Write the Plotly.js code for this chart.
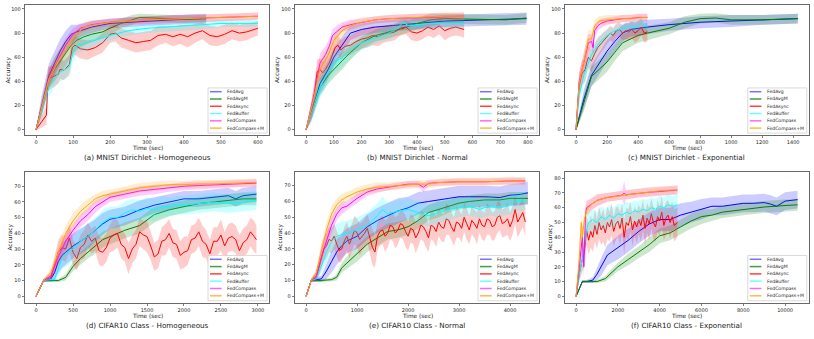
<!DOCTYPE html>
<html><head><meta charset="utf-8">
<script src="https://cdn.plot.ly/plotly-3.0.1.min.js"></script>
<style>html,body{margin:0;padding:0;background:#fff}#chart{width:814px;height:339px}</style>
</head><body><div id="chart"></div>
<script>
const seriesNames = ['FedAvg','FedAvgM','FedAsync','FedBuffer','FedCompass','FedCompass+M'];
const seriesColors = ['#0000ff','#008000','#ff0000','#00ffff','#ff00ff','#ffa500'];
const bandColors = ['rgba(0,0,255,0.2)','rgba(0,128,0,0.2)','rgba(255,0,0,0.2)','rgba(0,255,255,0.2)','rgba(255,0,255,0.2)','rgba(255,165,0,0.2)'];
const legendColors = ['rgba(0,0,255,0.55)','rgba(0,128,0,0.75)','rgba(255,0,0,0.75)','rgba(0,255,255,0.6)','rgba(255,0,255,0.6)','rgba(255,165,0,0.75)'];
const panelTitles = ['(a) MNIST Dirichlet - Homogeneous','(b) MNIST Dirichlet - Normal','(c) MNIST Dirichlet - Exponential','(d) CIFAR10 Class - Homogeneous','(e) CIFAR10 Class - Normal','(f) CIFAR10 Class - Exponential'];
const xTickVals = [[0,100,200,300,400,500,600],[0,100,200,300,400,500,600,700,800],[0,200,400,600,800,1000,1200,1400],[0,500,1000,1500,2000,2500,3000],[0,1000,2000,3000,4000],[0,2000,4000,6000,8000,10000]];
const yTickVals = [[0,20,40,60,80,100],[0,20,40,60,80,100],[0,20,40,60,80,100],[0,10,20,30,40,50,60,70],[0,10,20,30,40,50,60,70],[0,10,20,30,40,50,60,70,80]];

// ---------- Panel A: MNIST Dirichlet - Homogeneous ----------
const a_avg_t = [0,15,35,50,65,80,95,110,130,150,200,250,300,350,400,460];
const a_avg_v = [0,20,45,55,65,73,79,81,83,85,88,89,90,91,91.5,92];
const a_avg_s = [1,8,10,10,10,9,8,6,5,5,4,4,4,4,4,4];
const a_avgm_t = [0,15,35,50,65,80,95,110,130,150,180,200,230,260,280,320,360,400,460];
const a_avgm_v = [0,18,42,50,57,63,70,74,77,79,81,84,88,91,93,92.5,92,91.5,92];
const a_avgm_s = [1,6,8,10,10,10,9,8,7,6,5,5,4,4,3,3,3,3,3];
const a_async_t = [0,28,32,45,60,65,75,90,98,105,120,140,160,180,200,215,230,250,270,290,310,330,350,370,390,410,430,450,470,490,510,530,550,570,590,600];
const a_async_v = [0,12,42,44,46,50,49,54,68,70,67,66,68,72,79,80,76,74,72,73,74,78,79,77,79,77,80,82,78,77,79,82,80,81,83,84];
const a_async_s = [1,8,10,9,8,8,8,8,8,8,8,8,7,8,7,7,8,8,8,8,8,8,7,8,8,9,8,7,8,8,8,7,7,7,6,6];
const a_buf_t = [0,15,35,60,90,100,110,130,150,200,250,300,350,400,450,500,550,600];
const a_buf_v = [0,15,36,47,52,64,70,71,73,78,82,84,85,86,87,88,88,88];
const a_buf_s = [1,6,8,8,8,8,7,6,5,4,4,4,4,4,4,3,3,3];
const a_cmp_t = [0,15,35,60,80,100,120,150,200,250,300,400,500,600];
const a_cmp_v = [0,18,43,58,70,79,84,87,89,90,91,92,93,94];
const a_cmp_s = [1,6,7,7,6,5,4,3,3,3,3,3,3,3];
const a_cmpm_t = [0,15,35,60,80,100,130,160,200,300,400,500,600];
const a_cmpm_v = [0,17,42,57,67,76,85,87,89,91,92,93,94];
const a_cmpm_s = [1,6,7,7,6,5,4,4,3,3,3,3,3];

// ---------- Panel B: MNIST Dirichlet - Normal ----------
const b_avg_t = [0,25,50,80,100,130,160,200,250,300,350,400,450,500,570,650,720,795];
const b_avg_v = [0,20,38,50,60,70,80,83,85,86,87,88,89,90,90.5,91,91.5,92];
const b_avg_s = [1,8,8,8,8,7,6,5,5,5,5,5,5,5,5,5,5,5];
const b_avgm_t = [0,25,50,80,100,130,160,200,250,300,350,400,450,500,570,650,720,795];
const b_avgm_v = [0,18,35,45,50,57,64,72,78,81,84,88,91,92,91.5,91,91,92.5];
const b_avgm_s = [1,7,7,7,7,7,6,5,5,5,5,5,5,4,4,4,4,4];
const b_async_t = [0,20,30,40,50,60,70,85,95,105,115,125,140,160,180,200,220,240,260,280,300,320,340,360,380,400,420,440,460,480,500,520,540,560,570];
const b_async_v = [0,15,30,48,50,47,50,56,62,68,70,66,69,70,73,75,76,78,77,79,80,81,84,85,81,80,82,85,83,86,82,84,85,84,83];
const b_async_s = [1,8,10,10,9,9,9,9,9,9,8,8,8,8,8,8,8,8,8,7,7,7,6,6,7,7,7,7,7,7,8,7,7,7,7];
const b_buf_t = [0,25,50,80,100,130,160,200,250,300,330,350,370,400,450,500,570];
const b_buf_v = [0,18,35,48,55,60,66,72,76,80,84,89,86,87,88,88,88];
const b_buf_s = [1,8,9,9,9,8,7,6,5,5,5,4,4,4,4,4,4];
const b_cmp_t = [0,15,30,50,70,85,95,110,130,160,200,250,300,400,500,570];
const b_cmp_v = [0,15,30,55,62,70,78,81,85,87,89,91,92,93,93.5,94];
const b_cmp_s = [1,6,8,8,7,6,5,5,4,4,3,3,3,3,3,3];
const b_cmpm_t = [0,15,30,50,80,100,130,160,200,250,300,400,500,570];
const b_cmpm_v = [0,14,28,50,62,74,82,86,89,91,92,93,94,94];
const b_cmpm_s = [1,6,8,8,8,6,5,4,4,3,3,3,3,3];

// ---------- Panel C: MNIST Dirichlet - Exponential ----------
const c_avg_t = [0,50,100,150,200,250,300,350,400,460,600,800,1000,1200,1430];
const c_avg_v = [0,25,45,55,65,73,80,83,84,85,87,89,90,91,92];
const c_avg_s = [1,8,9,9,9,8,7,6,6,6,5,5,5,4,4];
const c_avgm_t = [0,50,100,150,200,250,300,400,460,600,700,800,900,1000,1200,1430];
const c_avgm_v = [0,22,44,50,56,64,72,78,80,84,89,92,92.5,91,91,92];
const c_avgm_s = [1,7,8,8,8,7,7,6,6,5,5,4,4,4,4,4];
const c_async_t = [0,10,20,30,40,50,60,70,80,90,100,120,140,160,180,200,220,240,260,280,300,320,340,360,380,400,420,440,460];
const c_async_v = [0,20,35,42,47,48,50,56,60,58,57,63,68,71,74,77,80,78,82,83,80,82,81,83,80,82,85,80,81];
const c_async_s = [1,8,10,10,10,10,10,9,9,9,9,8,8,7,7,6,6,6,6,6,6,7,7,7,8,8,7,8,8];
const c_buf_t = [0,20,50,80,100,150,200,250,300,350,400,420,440,460];
const c_buf_v = [0,28,45,55,62,72,78,82,84,85,86,88,86,86];
const c_buf_s = [1,8,8,7,7,6,5,4,4,4,4,4,4,4];
const c_cmp_t = [0,20,40,60,80,100,110,120,140,160,200,250,300,350,400,460];
const c_cmp_v = [0,40,50,60,72,73,68,82,86,88,90,91,92,92,93,93];
const c_cmp_s = [1,8,8,8,7,6,6,5,4,4,3,3,3,3,3,3];
const c_cmpm_t = [0,20,40,60,80,100,120,150,200,300,400,460];
const c_cmpm_v = [0,38,50,62,75,75,86,90,91,92,93,93];
const c_cmpm_s = [1,8,9,9,8,7,5,4,4,3,3,3];

// ---------- Panel D: CIFAR10 Class - Homogeneous ----------
const d_avg_t = [0,100,200,250,300,350,400,500,600,700,800,900,1000,1200,1400,1600,1800,2000,2200,2400,2600,2700,2800,2980];
const d_avg_v = [0,10,11,15,22,26,28,32,35,38,42,46,49,51,55,58,60,62,62,63,64,62,64,65];
const d_avg_s = [0.5,1,2,5,7,8,8,8,8,8,7,7,6,6,6,5,5,5,5,5,5,5,5,5];
const d_avgm_t = [0,100,200,300,400,500,600,700,800,900,1000,1100,1200,1400,1600,1800,2000,2200,2400,2600,2800,2980];
const d_avgm_v = [0,10,10,10,12,19,24,28,32,36,38,40,42,45,52,55,57,59,60,61,62,62];
const d_avgm_s = [0.5,1,1,1,2,3,4,4,5,5,5,5,5,5,5,4,4,4,4,4,4,4];
const d_async_t = [0,100,200,250,300,350,400,450,500,550,600,650,700,750,800,850,900,950,1000,1050,1100,1150,1200,1250,1300,1350,1400,1450,1500,1550,1600,1650,1700,1750,1800,1850,1900,1950,2000,2050,2100,2150,2200,2250,2300,2350,2400,2450,2500,2550,2600,2650,2700,2750,2800,2850,2900,2950,2980];
const d_async_v = [0,10,12,20,28,31,30,37,28,24,31,33,39,35,37,29,28,31,37,39,40,33,31,24,30,33,41,39,38,32,25,27,35,36,40,34,33,26,28,29,36,37,41,35,33,27,35,35,39,32,37,38,36,29,34,36,41,38,36];
const d_async_s = [0.5,1,2,5,8,8,8,9,8,8,8,9,8,8,8,9,9,9,9,10,9,9,9,10,9,9,9,9,10,9,9,9,9,10,9,9,9,9,10,9,9,9,9,10,9,9,9,9,10,9,9,9,9,10,9,9,9,10,9];
const d_buf_t = [0,100,250,300,350,400,500,600,700,800,900,1000,1100,1200,1300,1400,1500,1600,1700,1800,1900,2000,2200,2400,2600,2800,2980];
const d_buf_v = [0,10,11,18,24,27,30,35,38,42,47,50,50,53,55,54,56,55,57,57,58,58,59,60,59,60,61];
const d_buf_s = [0.5,1,2,5,7,8,8,8,8,8,8,7,7,7,7,7,7,7,7,6,6,6,6,6,6,6,6];
const d_cmp_t = [0,100,200,300,400,500,600,700,800,900,1000,1200,1400,1600,1800,2000,2200,2400,2600,2800,2980];
const d_cmp_v = [0,10,13,25,35,42,48,52,57,60,63,65,67,68,69,70,70.5,71,71.5,72,72];
const d_cmp_s = [0.5,1,3,4,5,4,4,4,4,3,3,3,3,3,2.5,2.5,2.5,2.5,2.5,2.5,2.5];
const d_cmpm_t = [0,100,200,300,400,500,600,700,800,900,1000,1200,1400,1600,1800,2000,2200,2400,2600,2980];
const d_cmpm_v = [0,10,15,28,40,48,54,58,62,64,65,67,69,70,71,71,71.5,71.5,72,72.5];
const d_cmpm_s = [0.5,1,3,5,5,5,4,4,3,3,3,3,3,3,2.5,2.5,2.5,2.5,2.5,2.5];

// ---------- Panel E: CIFAR10 Class - Normal ----------
const e_avg_t = [0,100,300,400,500,600,700,800,1000,1200,1400,1600,1800,2000,2200,2400,2600,2800,3000,3200,3500,3800,4000,4200,4350];
const e_avg_v = [0,10,11,16,22,28,32,35,38,44,48,51,54,56,59,60,61,62,63,63,63,62.5,64,64.5,65.5];
const e_avg_s = [0.5,1,2,5,7,8,8,8,8,8,8,8,8,7,7,7,7,7,7,7,7,7,7,7,7];
const e_avgm_t = [0,100,300,500,600,700,800,1000,1200,1400,1600,1800,2000,2200,2400,2600,2800,3000,3200,3500,3800,4000,4350];
const e_avgm_v = [0,10,10,10.5,12,18,21,27,33,37,41,42,44,48,53,55,57,59,60,61,61,62,62];
const e_avgm_s = [0.5,1,1,1,2,3,4,5,5,5,5,5,5,5,5,5,4,4,4,4,4,4,4];
const e_async_t = [0,100,200,300,350,400,450,500,550,600,650,700,750,800,850,900,950,1000,1050,1100,1150,1200,1250,1300,1350,1400,1450,1500,1550,1600,1650,1700,1750,1800,1850,1900,1950,2000,2050,2100,2150,2200,2250,2300,2350,2400,2450,2500,2550,2600,2650,2700,2750,2800,2850,2900,2950,3000,3050,3100,3150,3200,3250,3300,3350,3400,3450,3500,3550,3600,3650,3700,3750,3800,3850,3900,3950,4000,4050,4100,4150,4200,4250,4300];
const e_async_v = [0,10,12,25,30,32,36,35,38,33,29,30,35,38,33,37,42,40,36,38,40,43,37,31,28,38,41,42,38,40,45,44,40,42,46,45,41,38,43,42,37,40,45,44,41,37,45,44,41,47,44,43,49,48,44,41,47,46,43,50,46,42,48,46,43,49,45,44,49,48,44,45,50,51,46,47,49,44,48,55,47,50,53,47];
const e_async_s = [0.5,1,3,8,8,8,8,8,8,8,8,8,9,9,9,9,9,9,10,9,9,9,10,11,10,9,9,9,10,9,9,9,10,9,9,9,10,9,9,9,10,9,9,9,10,9,9,9,10,9,9,9,10,9,9,9,10,9,9,9,10,9,9,9,10,9,9,9,10,9,9,9,10,9,9,9,10,9,9,9,10,9,9,9];
const e_buf_t = [0,100,200,300,400,500,600,800,1000,1200,1400,1500,1600,1800,2000,2200,2400,2600,2800,3000,3200,3400,3600,3800,4000,4100,4300];
const e_buf_v = [0,10,11,20,28,35,38,40,42,45,51,55,52,54,55,53,51,53,55,56,57,55,57,56,58,60,60];
const e_buf_s = [0.5,1,2,5,7,8,8,8,8,8,8,8,7,7,7,7,7,7,7,6,6,6,6,6,6,6,6];
const e_cmp_t = [0,100,200,300,400,500,600,700,800,1000,1200,1400,1600,1800,2000,2200,2300,2400,2600,3000,3500,4000,4300];
const e_cmp_v = [0,10,13,25,35,45,52,56,57,62,66,68,69,70,71,71,69,71.5,72,72.5,72.5,73,73];
const e_cmp_s = [0.5,1,3,4,5,5,4,4,3,3,2.5,2.5,2,2,2,2,3,2,2,2,2,2,2];
const e_cmpm_t = [0,100,200,300,400,500,600,700,800,1000,1200,1400,1600,1800,2000,2200,2400,2600,3000,3500,4000,4300];
const e_cmpm_v = [0,10,15,28,42,52,58,61,63,66,68,69,69.5,70,70.5,71,71,72,72.5,72.5,73,73];
const e_cmpm_s = [0.5,1,3,5,5,5,4,4,3,3,3,3,2.5,2.5,2.5,2.5,2.5,2.5,2.5,2.5,2.5,2.5];

// ---------- Panel F: CIFAR10 Class - Exponential ----------
const f_avg_t = [0,300,500,800,1000,1200,1500,2000,2500,3000,3500,4000,4500,5000,5500,6000,6500,7000,7500,8000,8500,9000,9300,9600,10000,10600];
const f_avg_v = [0,10,10,11,15,20,28,33,38,44,49,52,52,55,57,59,61,61,62,63,63,63.5,62.5,61,64.5,65.5];
const f_avg_s = [0.5,1,1,2,4,6,7,8,8,8,8,8,8,8,7,7,6,6,6,6,6,6,6,6,6,6];
const f_avgm_t = [0,300,500,1000,1400,2000,2500,3000,3500,4000,4500,5000,5500,6000,6500,7000,7500,8000,9000,10000,10600];
const f_avgm_v = [0,10,10,10,12,20,25,30,35,41,43,47,51,54,55,57,58,59,60.5,61.5,62];
const f_avgm_s = [0.5,1,1,1,2,3,4,4,5,5,5,5,5,5,4,4,4,4,4,4,4];
const f_async_t = [0,150,300,400,500,600,700,800,900,1000,1100,1200,1300,1400,1500,1600,1700,1800,1900,2000,2100,2200,2300,2400,2500,2600,2700,2800,2900,3000,3100,3200,3300,3400,3500,3600,3700,3800,3900,4000,4100,4200,4300,4400,4500,4600,4700,4850];
const f_async_v = [0,15,25,30,45,38,44,40,48,42,50,45,48,43,50,47,52,44,49,51,46,53,40,50,48,54,45,51,47,52,48,55,46,53,49,56,50,47,54,51,57,48,53,55,50,54,48,50];
const f_async_s = [0.5,5,8,10,10,10,11,10,11,10,11,10,11,10,11,10,11,10,11,10,11,10,12,10,11,10,11,10,11,10,11,10,11,10,11,10,11,10,11,10,11,10,11,10,11,10,11,10];
const f_buf_t = [0,150,300,400,500,600,800,1000,1200,1400,1600,1800,2000,2200,2400,2600,2800,3000,3200,3400,3600,3800,4000,4200,4400,4600,4850];
const f_buf_v = [0,15,25,35,45,50,52,50,54,52,55,53,56,55,57,56,58,57,59,58,60,59,61,60,62,61,62];
const f_buf_s = [0.5,5,8,8,8,7,7,7,7,7,7,7,7,7,7,7,7,7,7,7,7,7,7,7,7,7,7];
const f_cmp_t = [0,150,300,370,450,500,700,1000,1500,2000,2200,2300,2400,2500,3000,3500,4000,4500,4850];
const f_cmp_v = [0,20,40,20,55,60,62,65,67,68,68.5,70,68.5,69,70,70.5,71,71.5,72];
const f_cmp_s = [0.5,5,8,8,6,5,4,4,3,3,3,8,3,3,3,3,3,3,3];
const f_cmpm_t = [0,150,250,300,400,500,700,1000,1500,2000,2500,3000,3500,4000,4500,4850];
const f_cmpm_v = [0,25,50,40,52,58,62,65,67,68,69,70,71,71.5,72,72];
const f_cmpm_s = [0.5,6,8,8,6,5,4,4,3,3,3,3,3,3,3,3];

const panelData = [
  {t:[a_avg_t,a_avgm_t,a_async_t,a_buf_t,a_cmp_t,a_cmpm_t], v:[a_avg_v,a_avgm_v,a_async_v,a_buf_v,a_cmp_v,a_cmpm_v], s:[a_avg_s,a_avgm_s,a_async_s,a_buf_s,a_cmp_s,a_cmpm_s]},
  {t:[b_avg_t,b_avgm_t,b_async_t,b_buf_t,b_cmp_t,b_cmpm_t], v:[b_avg_v,b_avgm_v,b_async_v,b_buf_v,b_cmp_v,b_cmpm_v], s:[b_avg_s,b_avgm_s,b_async_s,b_buf_s,b_cmp_s,b_cmpm_s]},
  {t:[c_avg_t,c_avgm_t,c_async_t,c_buf_t,c_cmp_t,c_cmpm_t], v:[c_avg_v,c_avgm_v,c_async_v,c_buf_v,c_cmp_v,c_cmpm_v], s:[c_avg_s,c_avgm_s,c_async_s,c_buf_s,c_cmp_s,c_cmpm_s]},
  {t:[d_avg_t,d_avgm_t,d_async_t,d_buf_t,d_cmp_t,d_cmpm_t], v:[d_avg_v,d_avgm_v,d_async_v,d_buf_v,d_cmp_v,d_cmpm_v], s:[d_avg_s,d_avgm_s,d_async_s,d_buf_s,d_cmp_s,d_cmpm_s]},
  {t:[e_avg_t,e_avgm_t,e_async_t,e_buf_t,e_cmp_t,e_cmpm_t], v:[e_avg_v,e_avgm_v,e_async_v,e_buf_v,e_cmp_v,e_cmpm_v], s:[e_avg_s,e_avgm_s,e_async_s,e_buf_s,e_cmp_s,e_cmpm_s]},
  {t:[f_avg_t,f_avgm_t,f_async_t,f_buf_t,f_cmp_t,f_cmpm_t], v:[f_avg_v,f_avgm_v,f_async_v,f_buf_v,f_cmp_v,f_cmpm_v], s:[f_avg_s,f_avgm_s,f_async_s,f_buf_s,f_cmp_s,f_cmpm_s]}
];

// ---------- layout geometry (pixels) ----------
const W = 814, H = 339;
const colPx = [[25,269],[295,539],[565,808.7]];
const rowPx = [[5,135],[172.3,302.7]];
const xRanges = [[-30,630],[-40,840],[-71,1500],[-150,3150],[-218,4568],[-530,11130]];
const yRanges = [[-4.5,103.3],[-4.5,103.3],[-4.5,103.3],[-4.1,78.9],[-4.1,78.5],[-4.3,84]];
const yLabelX = [[7.5,277,547],[10,280,550]];

const traces = [];
const layout = {
  width: W, height: H, margin:{l:0,r:0,t:0,b:0},
  paper_bgcolor:'#ffffff', plot_bgcolor:'#ffffff', showlegend:false,
  font:{family:'DejaVu Sans, sans-serif', color:'#222'},
  annotations:[], shapes:[]
};
const fp = (px)=>px/W, fy = (py)=>1-py/H;

for (let p=0;p<6;p++){
  const r = Math.floor(p/3), c = p%3;
  const xn = p===0?'x':'x'+(p+1), yn = p===0?'y':'y'+(p+1);
  const xk = p===0?'xaxis':'xaxis'+(p+1), yk = p===0?'yaxis':'yaxis'+(p+1);
  const axCommon = {showgrid:false, zeroline:false, showline:true, mirror:true, linecolor:'#444', linewidth:0.8,
    ticks:'outside', ticklen:2.5, tickwidth:0.7, tickcolor:'#444', tickfont:{size:5, color:'#222'}, fixedrange:true};
  layout[xk] = Object.assign({}, axCommon, {domain:[fp(colPx[c][0]), fp(colPx[c][1])], range:xRanges[p], anchor:yn,
    tickmode:'array', tickvals:xTickVals[p], ticktext:xTickVals[p].map(String)});
  layout[yk] = Object.assign({}, axCommon, {domain:[fy(rowPx[r][1]), fy(rowPx[r][0])], range:yRanges[p], anchor:xn,
    tickmode:'array', tickvals:yTickVals[p], ticktext:yTickVals[p].map(String)});
  const d = panelData[p];
  for (let k=0;k<6;k++){
    const t=d.t[k], v=d.v[k], s=d.s[k];
    const hi = v.map((y,i)=>y+s[i]);
    const lo = v.map((y,i)=>y-s[i]);
    traces.push({x:t.concat(t.slice().reverse()), y:hi.concat(lo.slice().reverse()), xaxis:xn, yaxis:yn,
      type:'scatter', mode:'lines', fill:'toself', fillcolor:bandColors[k], line:{width:0}, hoverinfo:'skip'});
    traces.push({x:t, y:v, xaxis:xn, yaxis:yn, type:'scatter', mode:'lines', name:seriesNames[k],
      line:{color:seriesColors[k], width:1}});
  }
  const cx = (colPx[c][0]+colPx[c][1])/2;
  const xlabY = r===0?148:315.5, capY = r===0?157:325;
  const cyMid = (rowPx[r][0]+rowPx[r][1])/2;
  layout.annotations.push({xref:'paper', yref:'paper', x:fp(cx), y:fy(xlabY), text:'Time (sec)', showarrow:false, xanchor:'center', yanchor:'middle', font:{size:5.8, color:'#222'}});
  layout.annotations.push({xref:'paper', yref:'paper', x:fp(cx), y:fy(capY), text:panelTitles[p], showarrow:false, xanchor:'center', yanchor:'middle', font:{size:7.2, color:'#222'}});
  layout.annotations.push({xref:'paper', yref:'paper', x:fp(yLabelX[r][c]), y:fy(cyMid), text:'Accuracy', textangle:-90, showarrow:false, xanchor:'center', yanchor:'middle', font:{size:5.8, color:'#222'}});
  const xd = xn+' domain', yd = yn+' domain';
  layout.shapes.push({type:'rect', xref:xd, yref:yd, x0:0.75, x1:0.992, y0:0.015, y1:0.362, line:{color:'#d0d0d0', width:0.8}, fillcolor:'rgba(255,255,255,0.85)', layer:'above'});
  for (let k=0;k<6;k++){
    const yy = 0.333 - k*0.056;
    layout.shapes.push({type:'line', xref:xd, yref:yd, x0:0.758, x1:0.806, y0:yy, y1:yy, line:{color:legendColors[k], width:1.5}, layer:'above'});
    layout.annotations.push({xref:xd, yref:yd, x:0.8197, y:yy, text:seriesNames[k], showarrow:false, xanchor:'left', yanchor:'middle', font:{size:4.6, color:'#222'}});
  }
}

Plotly.newPlot('chart', traces, layout, {staticPlot:true, displayModeBar:false});
</script>
</body></html>
